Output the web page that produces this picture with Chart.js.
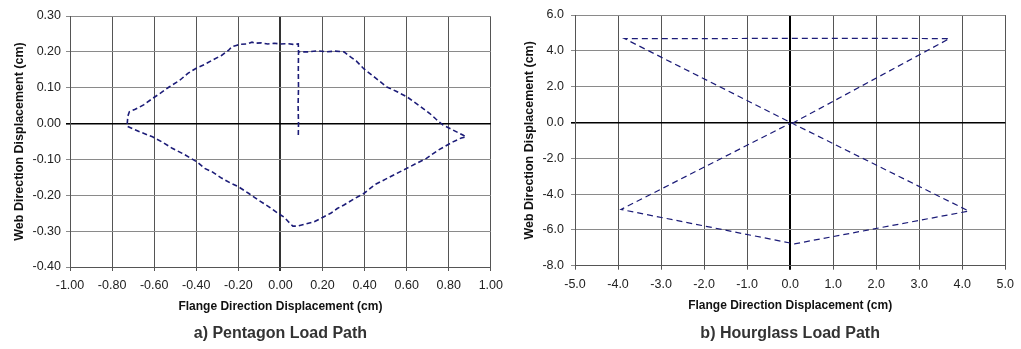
<!DOCTYPE html>
<html><head><meta charset="utf-8">
<script src="https://cdn.jsdelivr.net/npm/chart.js@4/dist/chart.umd.min.js"></script>
<style>
html,body{margin:0;padding:0;background:#fff;}
#wrap{position:relative;width:1021px;height:349px;overflow:hidden;}
.box{position:absolute;top:0;height:349px;}
</style></head>
<body>
<div id="wrap">
  <div class="box" style="left:0;width:510px;"><canvas id="cA"></canvas></div>
  <div class="box" style="left:510px;width:511px;"><canvas id="cB"></canvas></div>
</div>
<script>
// ---- Data: a) Pentagon load path ----
const pentagonX = [0.085,0.086,0.084,0.086,0.085,0.086,0.085,
  0.06,0.03,0.0,-0.03,-0.06,-0.09,-0.12,-0.135,-0.16,-0.19,-0.21,-0.232,-0.247,
  -0.28,-0.32,-0.36,-0.404,-0.44,-0.48,-0.529,-0.57,-0.608,-0.65,-0.69,-0.718,-0.725,-0.729,
  -0.70,-0.66,-0.608,-0.56,-0.514,-0.46,-0.396,-0.36,-0.326,-0.28,-0.24,-0.2,-0.15,-0.106,-0.06,-0.012,0.02,0.04,0.059,0.082,
  0.12,0.161,0.2,0.239,0.27,0.302,0.35,0.396,0.45,0.5,0.553,0.6,0.65,0.694,0.75,0.82,0.86,0.882,
  0.867,0.82,0.773,0.74,0.71,0.66,0.6,0.55,0.506,0.45,0.396,0.36,0.333,0.302,0.26,0.22,0.176,0.13,0.09];
const pentagonY = [-0.032,0.0,0.05,0.10,0.15,0.20,0.222,
  0.221,0.223,0.222,0.224,0.222,0.225,0.224,0.227,0.222,0.221,0.218,0.214,0.204,
  0.19,0.178,0.165,0.153,0.14,0.12,0.102,0.085,0.07,0.052,0.04,0.033,0.021,-0.007,
  -0.015,-0.025,-0.037,-0.052,-0.069,-0.085,-0.107,-0.125,-0.134,-0.152,-0.165,-0.176,-0.195,-0.213,-0.23,-0.25,-0.262,-0.275,-0.286,-0.286,
  -0.28,-0.274,-0.262,-0.25,-0.237,-0.227,-0.21,-0.195,-0.17,-0.155,-0.139,-0.125,-0.11,-0.097,-0.074,-0.051,-0.04,-0.037,
  -0.032,-0.018,-0.004,0.012,0.028,0.05,0.075,0.09,0.102,0.128,0.153,0.175,0.186,0.2,0.202,0.2,0.203,0.2,0.2];
const pentagonXTicks = [-1.0,-0.8,-0.6,-0.4,-0.2,0.0,0.2,0.4,0.6,0.8,1.0];
const pentagonYTicks = [-0.4,-0.3,-0.2,-0.1,0.0,0.1,0.2,0.3];

// ---- Data: b) Hourglass load path ----
const hourglassX = [0.05,3.7,2.0,0.0,-2.0,-3.85,0.05,4.15,0.1,-3.93,0.0];
const hourglassY = [-0.05,4.68,4.70,4.70,4.68,4.68,-0.05,-4.95,-6.78,-4.86,-0.05];
const hourglassXTicks = [-5,-4,-3,-2,-1,0,1,2,3,4,5];
const hourglassYTicks = [-8,-6,-4,-2,0,2,4,6];

const LINE = '#1c1c78';
const FONT = "'Liberation Sans', Arial, sans-serif";
const isZero = v => Math.abs(v) < 1e-9;

function makeChart(id, xs, ys, xt, yt, dec, opt) {
  const pts = xs.map((x, i) => ({x: x, y: ys[i]}));
  return new Chart(document.getElementById(id), {
    type: 'scatter',
    data: { datasets: [{ data: pts, showLine: true, borderColor: LINE, borderWidth: opt.lw,
      borderDash: opt.dash, pointRadius: 0, fill: false, tension: 0 }] },
    options: {
      responsive: true, maintainAspectRatio: false, animation: false,
      layout: { padding: { left: 0, right: opt.padR, top: opt.padT, bottom: 0 } },
      plugins: {
        legend: { display: false }, tooltip: { enabled: false },
        title: { display: true, text: opt.title, position: 'bottom', fullSize: false,
          color: '#333', font: { family: FONT, size: 16, weight: 'bold', lineHeight: 1.2 },
          padding: { top: 5, bottom: 6 } }
      },
      scales: {
        x: {
          type: 'linear', min: xt[0], max: xt[xt.length - 1],
          afterBuildTicks: s => { s.ticks = xt.map(v => ({value: v})); },
          afterFit: s => { s.height = opt.xH; },
          ticks: { color: '#222', padding: 7, maxRotation: 0, autoSkip: false,
            font: { family: FONT, size: 12.5 },
            callback: v => (isZero(v) ? 0 : v).toFixed(dec) },
          grid: { color: c => isZero(c.tick.value) ? opt.zeroV : '#555',
            lineWidth: c => isZero(c.tick.value) ? 2 : 1, tickLength: 4, drawTicks: true },
          border: { display: true, color: '#555' },
          title: { display: true, text: 'Flange Direction Displacement (cm)', color: '#111',
            font: { family: FONT, size: 12, weight: 'bold', lineHeight: 1.2 },
            padding: { top: 0, bottom: opt.xTitlePad } }
        },
        y: {
          type: 'linear', min: yt[0], max: yt[yt.length - 1],
          afterBuildTicks: s => { s.ticks = yt.map(v => ({value: v})); },
          afterFit: s => { s.width = opt.yW; },
          ticks: { color: '#222', padding: opt.yTickPad, autoSkip: false,
            font: { family: FONT, size: 12.5 },
            callback: v => (isZero(v) ? 0 : v).toFixed(dec) },
          grid: { color: c => isZero(c.tick.value) ? '#000' : '#8a8a8a',
            lineWidth: c => isZero(c.tick.value) ? 1.6 : 1, tickLength: 4, drawTicks: true },
          border: { display: true, color: '#555' },
          title: { display: true, text: 'Web Direction Displacement (cm)', color: '#111',
            font: { family: FONT, size: 12.5, weight: 'bold', lineHeight: 1.2 },
            padding: { top: 12.5, bottom: 0 } }
        }
      }
    }
  });
}

makeChart('cA', pentagonX, pentagonY, pentagonXTicks, pentagonYTicks, 2,
  { title: 'a) Pentagon Load Path', lw: 1.6, dash: [5, 3], padR: 15, padT: 16,
    yW: 70, xH: 51.8, xTitlePad: 5, yTickPad: 5, zeroV: '#333' });
makeChart('cB', hourglassX, hourglassY, hourglassXTicks, hourglassYTicks, 1,
  { title: 'b) Hourglass Load Path', lw: 1.2, dash: [6, 4], padR: 11, padT: 15,
    yW: 65, xH: 53.1, xTitlePad: 6, yTickPad: 7, zeroV: '#000' });
</script>
</body></html>
